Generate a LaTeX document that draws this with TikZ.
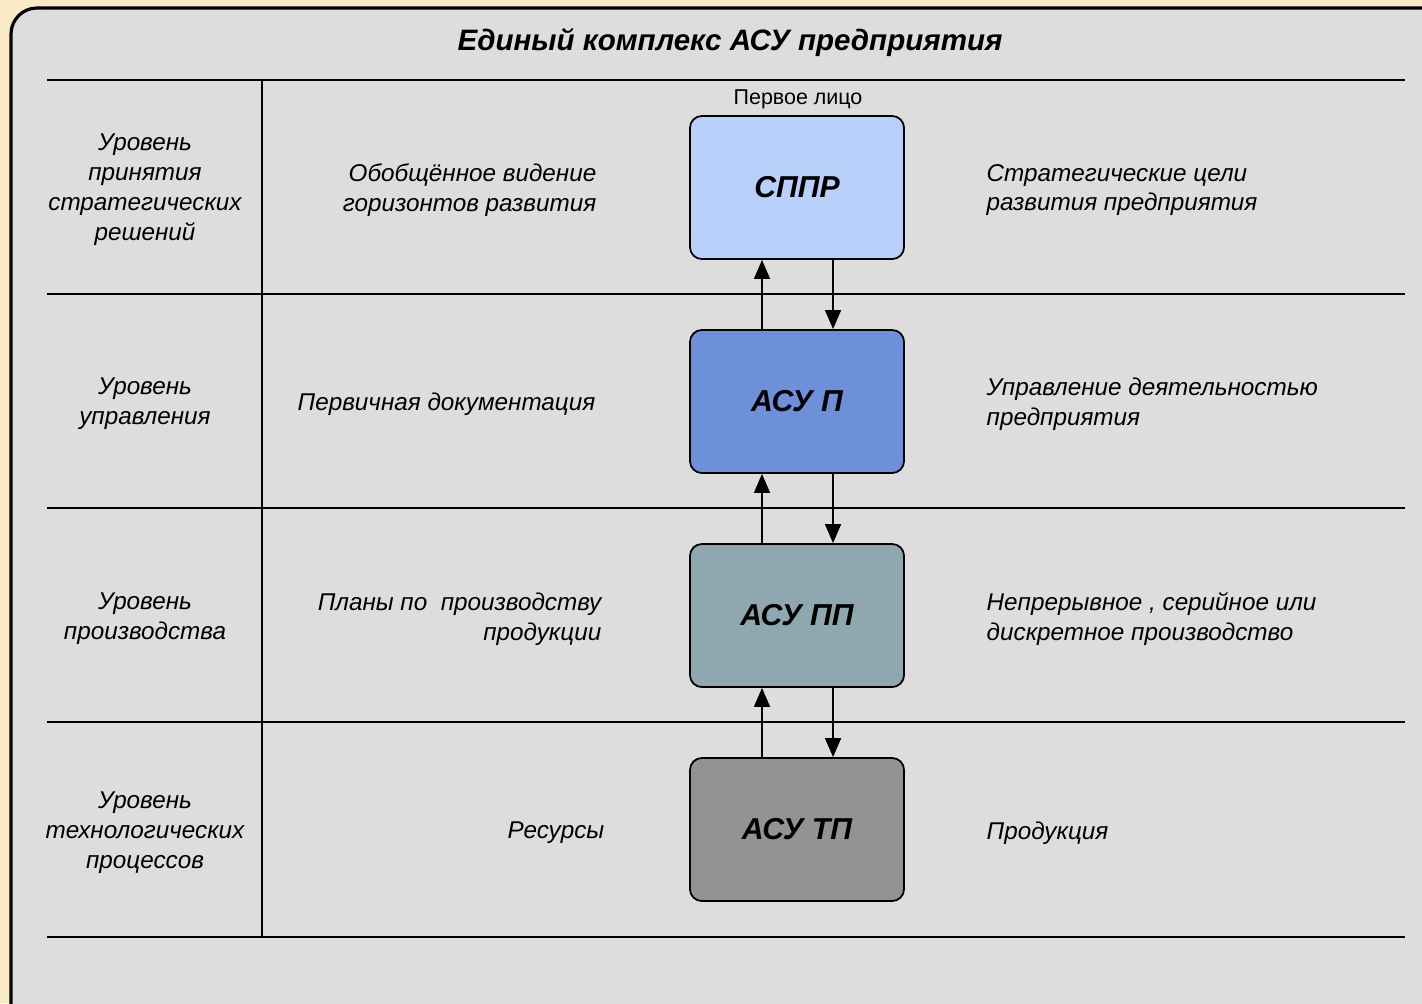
\documentclass[tikz,border=0pt]{standalone}
\usepackage{fontspec}
\setmainfont{Liberation Sans}
\usetikzlibrary{arrows.meta}
\definecolor{beige}{HTML}{FAE9C5}
\definecolor{panel}{HTML}{DDDDDD}
\definecolor{csppr}{HTML}{B8D0FA}
\definecolor{casup}{HTML}{6E8FD9}
\definecolor{casupp}{HTML}{8FA8AF}
\definecolor{casutp}{HTML}{939393}
\tikzset{
  level/.style={align=center,font=\fontsize{6.9}{8.5}\selectfont\itshape},
  info/.style={inner sep=0pt,font=\fontsize{6.9}{8.5}\selectfont\itshape},
  sysbox/.style={draw,line width=0.5pt,rounded corners=0.12cm,minimum width=2.14cm,
    minimum height=1.43cm,font=\fontsize{8.6}{10}\selectfont\bfseries\itshape},
  flow/.style={line width=0.45pt,-{Triangle[length=0.19cm,width=0.16cm]}}
}
\begin{document}
\begin{tikzpicture}[x=0.01cm,y=-0.01cm]
\useasboundingbox[fill=beige] (0,0) rectangle (1422,1003);
\draw[fill=panel,line width=0.9pt,rounded corners=0.26cm] (11,8) rectangle (1450,1040);
\node[font=\fontsize{8.4}{10}\selectfont\bfseries\itshape] (title) at (730,43) {Единый комплекс АСУ предприятия};

\foreach \yy in {80,294,508,722,937}
  \draw[line width=0.6pt] (47,\yy) -- (1405,\yy);
\draw[line width=0.6pt] (262,80) -- (262,937);

\node[sysbox,fill=csppr] (sppr) at (797,187.5) {СППР};
\node[sysbox,fill=casup] (asup) at (797,401.5) {АСУ П};
\node[sysbox,fill=casupp] (asupp) at (797,615.5) {АСУ ПП};
\node[sysbox,fill=casutp] (asutp) at (797,829.5) {АСУ ТП};
\node[font=\fontsize{6.1}{7}\selectfont] (face) at (798,99) {Первое лицо};

\draw[flow] ([xshift=-0.35cm]asup.north) -- ([xshift=-0.35cm]sppr.south);
\draw[flow] ([xshift=0.36cm]sppr.south) -- ([xshift=0.36cm]asup.north);
\draw[flow] ([xshift=-0.35cm]asupp.north) -- ([xshift=-0.35cm]asup.south);
\draw[flow] ([xshift=0.36cm]asup.south) -- ([xshift=0.36cm]asupp.north);
\draw[flow] ([xshift=-0.35cm]asutp.north) -- ([xshift=-0.35cm]asupp.south);
\draw[flow] ([xshift=0.36cm]asupp.south) -- ([xshift=0.36cm]asutp.north);

% levels
\node[level] (lvl1) at (145,190) {Уровень\\принятия\\стратегических\\решений};
\node[level] (lvl2) at (145,404) {Уровень\\управления};
\node[level] (lvl3) at (145,619) {Уровень\\производства};
\node[level] (lvl4) at (145,833) {Уровень\\технологических\\процессов};

% inputs
\node[info,align=right,anchor=east] (in1) at (597,190) {Обобщённое видение\\горизонтов развития};
\node[info,align=right,anchor=east] (in2) at (596,404) {Первичная документация};
\node[info,align=right,anchor=east] (in3) at (602,619) {Планы по~ производству\\продукции};
\node[info,align=right,anchor=east] (in4) at (605,833) {Ресурсы};

% outputs
\node[info,align=left,anchor=west] (out1) at (986,190) {Стратегические цели\\развития предприятия};
\node[info,align=left,anchor=west] (out2) at (986,404) {Управление деятельностью\\предприятия};
\node[info,align=left,anchor=west] (out3) at (986,619) {Непрерывное , серийное или\\дискретное производство};
\node[info,align=left,anchor=west] (out4) at (986,833) {Продукция};
\end{tikzpicture}
\end{document}
